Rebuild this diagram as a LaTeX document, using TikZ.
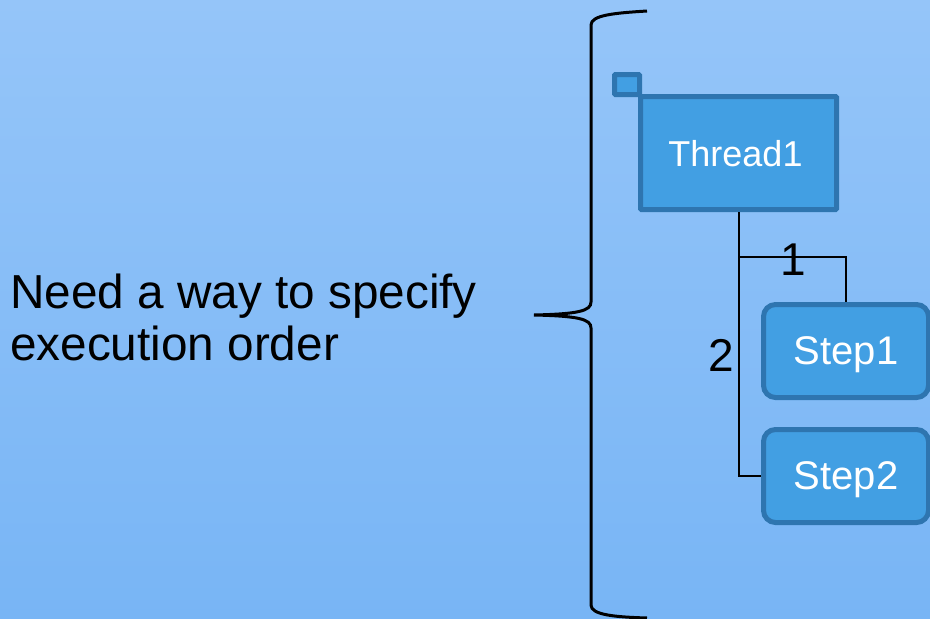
\documentclass[tikz,border=0pt]{standalone}
\usepackage{fontspec}
\setmainfont{Liberation Sans}
\usepackage{xcolor}
\usetikzlibrary{calc}
\definecolor{bgtop}{RGB}{149,197,249}
\definecolor{bgbot}{RGB}{120,181,245}
\definecolor{boxfill}{RGB}{66,159,227}
\definecolor{boxline}{RGB}{46,117,176}
\tikzset{
  threadbox/.style={draw=boxline,fill=boxfill,line width=5pt,rounded corners=1pt,
    inner sep=0pt,text depth=0pt,text=white,font=\fontsize{36}{40}\selectfont},
  stepbox/.style={threadbox,rounded corners=12pt,minimum width=165pt,minimum height=93pt,
    font=\fontsize{40}{44}\selectfont},
  wire/.style={line width=2pt},
  numlabel/.style={inner sep=0pt,font=\fontsize{46}{50}\selectfont}
}

\begin{document}
\begin{tikzpicture}[x=1pt,y=-1pt]
    \shade[top color=bgtop,bottom color=bgbot] (0,0) rectangle (930,619);
    \useasboundingbox (0,0) rectangle (930,619);

    \node[inner sep=0pt,anchor=base west,align=left,
      font=\fontsize{47.7}{52}\selectfont] (need) at (10,360)
      {Need a way to specify\\execution order};

    \draw[line width=3pt] (647,11) .. controls (615,13) and (591,15) .. (591,25)
      -- (591,302) .. controls (591,311) and (578,314) .. (534,315)
      .. controls (578,316) and (591,319) .. (591,328)
      -- (591,605) .. controls (591,615) and (615,617) .. (647,618);

    \node[threadbox,minimum width=25pt,minimum height=20pt] (flag) at (627,84.5) {};
    \node[threadbox,minimum width=196pt,minimum height=113pt] (thread) at (738.5,153)
      {\hspace*{-6pt}Thread1};
    \node[stepbox] (step1) at (846,351) {Step1};
    \node[stepbox] (step2) at (846,476) {Step2};

    \coordinate (fork) at (thread.south |- 0,257);
    \draw[wire] (thread.south) -- (thread.south |- step2.west) -- (step2.west);
    \draw[wire] (fork) -| (step1.north);
    \node[numlabel] (one) at (793,260) {1};
    \node[numlabel] (two) at (721,355) {2};
  \end{tikzpicture}
\end{document}
